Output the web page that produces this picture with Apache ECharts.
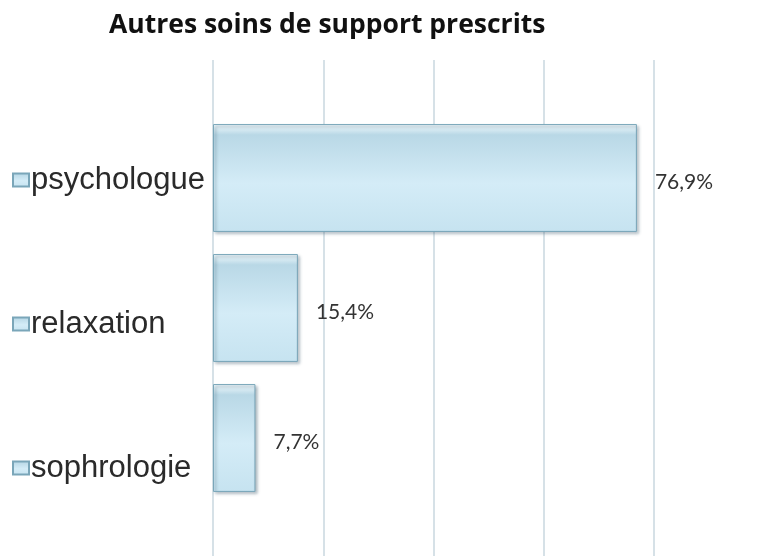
<!DOCTYPE html>
<html>
<head>
<meta charset="utf-8">
<script src="https://cdn.jsdelivr.net/npm/echarts@6/dist/echarts.min.js"></script>
<style>
  html, body { margin: 0; padding: 0; background: #fff; }
  #my-charts { width: 766px; height: 556px; }
</style>
</head>
<body>
<div id="my-charts"></div>
<script>
// données du graphique
var categories = ['psychologue', 'relaxation', 'sophrologie']
var values = [76.9, 15.4, 7.7]
var axisMax = 80
var axisStep = 20

var barStyle = {
	color: {
		type: 'linear', x: 0, y: 0, x2: 0, y2: 1,
		colorStops: [
			{ offset: 0, color: '#f4fbfe' },
			{ offset: 0.1, color: '#b9d8e6' },
			{ offset: 0.55, color: '#d4ecf7' },
			{ offset: 1, color: '#c6e3f0' }
		]
	},
	borderColor: '#7aa6b9',
	borderWidth: 1,
	shadowColor: 'rgba(40,70,90,0.45)',
	shadowBlur: 3,
	shadowOffsetX: 2,
	shadowOffsetY: 2
}

function fmt(v) {
	return v.toFixed(1).replace('.', ',') + '%'
}

// une série par catégorie pour avoir une légende par barre
var series = categories.map(function(name, i) {
	return {
		name: name,
		type: 'bar',
		stack: 'all',
		xAxisIndex: 1,
		yAxisIndex: 1,
		barCategoryGap: '17%',
		itemStyle: barStyle,
		label: {
			show: true,
			position: 'right',
			distance: 18,
			offset: [0, 4],
			fontFamily: 'Lato',
			fontSize: 21,
			color: '#333',
			formatter: function(p) { return fmt(p.value) }
		},
		data: categories.map(function(c, j) { return j === i ? values[i] : '-' })
	}
})

var myChart = echarts.init(document.getElementById('my-charts'))
var option = {
	animation: false,
	title: {
		text: 'Autres soins de support prescrits',
		left: 104,
		top: 7,
		textStyle: {
			fontFamily: 'Open Sans',
			fontWeight: 'bold',
			fontSize: 26.5,
			color: '#111'
		}
	},
	legend: {
		orient: 'vertical',
		left: 7,
		top: 157,
		itemGap: 108,
		itemWidth: 16,
		itemHeight: 13,
		icon: 'rect',
		textStyle: {
			fontFamily: 'Liberation Sans',
			fontSize: 31,
			lineHeight: 36,
			color: '#2a2a2a',
			padding: [0, 0, 0, -3]
		},
		data: categories
	},
	grid: [
		{ left: 213, width: 441, top: 60, bottom: 0 },
		{ left: 213, width: 441, top: 113, height: 390 }
	],
	xAxis: [
		{
			gridIndex: 0,
			type: 'value',
			min: 0,
			max: axisMax,
			interval: axisStep,
			axisLine: { show: false },
			axisTick: { show: false },
			axisLabel: { show: false },
			splitLine: { lineStyle: { color: '#c9d7df', width: 1.5 } }
		},
		{
			gridIndex: 1,
			type: 'value',
			min: 0,
			max: axisMax,
			show: false
		}
	],
	yAxis: [
		{ gridIndex: 0, type: 'value', show: false },
		{
			gridIndex: 1,
			type: 'category',
			inverse: true,
			data: categories,
			show: false
		}
	],
	series: series
}
myChart.setOption(option)
</script>
</body>
</html>
